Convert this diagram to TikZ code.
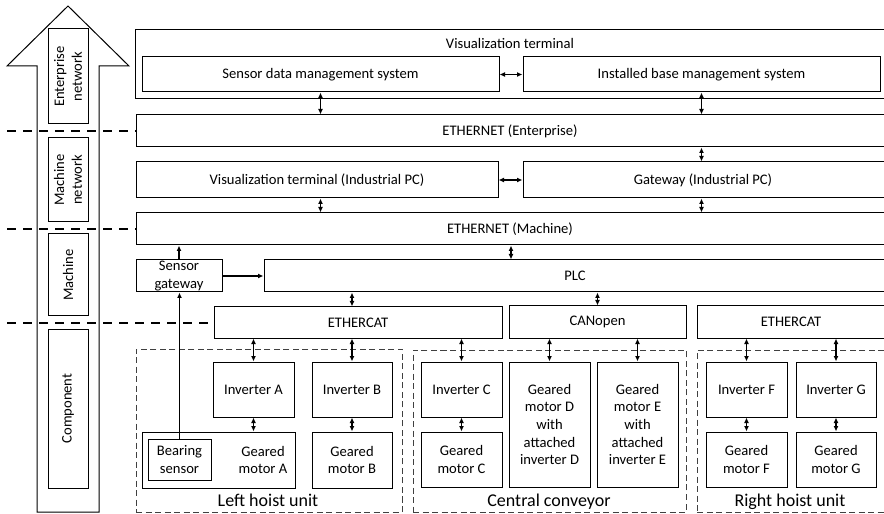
\documentclass[tikz,border=0pt]{standalone}
\usepackage{fontspec}
\setmainfont{Carlito}
\usetikzlibrary{arrows.meta}
\newcommand\fsz{\fontsize{14.6bp}{17.6bp}\selectfont}
\newcommand\fbig{\fontsize{18bp}{21bp}\selectfont}
\begin{document}
\begin{tikzpicture}[x=1bp,y=-1bp,
  span/.style n args={4}{minimum width={(#3-#1)*1bp}, minimum height={(#4-#2)*1bp}, at={({(#1+#3)/2},{(#2+#4)/2})}},
  box/.style={draw, line width=1bp, inner sep=0pt, align=center, font=\fsz},
  ubox/.style={draw=black!75, line width=1bp, dash pattern=on 6bp off 3.5bp, inner sep=0pt},
  txt/.style={inner sep=0pt, align=center, font=\fsz},
  utxt/.style={inner sep=0pt, align=center, font=\fbig},
  sepline/.style={line width=2.5bp, dash pattern=on 9bp off 7bp},
  dbl/.style={line width=1.3bp, {Latex[length=5.5bp,width=5bp]}-{Latex[length=5.5bp,width=5bp]}},
  one/.style={line width=1.3bp, -{Latex[length=5.5bp,width=5bp]}}]
\useasboundingbox (0,0) rectangle (884,514);
\clip (0,0) rectangle (884,514);

% big arrow
\draw[line width=1bp, fill=white] (37,512) -- (37,66) -- (7,66) -- (68,6) -- (129,66) -- (99,66) -- (99,512) -- cycle;

% level labels
\node[box, span={48}{29}{88}{124}] (lEnt) {};
\node[txt, rotate=90] (tEnt) at (lEnt.center) {Enterprise\\network};
\node[box, span={48}{138}{88}{222}] (lMn) {};
\node[txt, rotate=90] (tMn) at (lMn.center) {Machine\\network};
\node[box, span={48}{234}{88}{316}] (lMa) {};
\node[txt, rotate=90] (tMa) at (lMa.center) {Machine};
\node[box, span={48}{329}{88}{488}] (lCo) {};
\node[txt, rotate=90] (tCo) at (lCo.center) {Component};

% enterprise level
\node[box, span={135}{30}{890}{99}] (vt) {};
\node[txt] (vtl) at (510,43) {Visualization terminal};
\node[box, span={142}{57}{499}{92}] (sdm) {Sensor data management system};
\node[box, span={523}{57}{880}{92}] (ib) {Installed base management system};
\node[box, span={136}{115}{890}{147}] (ethE) {};
\node[txt] (tethE) at (510,131) {ETHERNET (Enterprise)};

% machine network level
\node[box, span={136}{162}{498}{198}] (ipc) {Visualization terminal (Industrial PC)};
\node[box, span={523}{162}{890}{198}] (gw) {};
\node[txt] (tgw) at (703,180) {Gateway (Industrial PC)};
\node[box, span={136}{213}{890}{245}] (ethM) {};
\node[txt] (tethM) at (510,229) {ETHERNET (Machine)};

% machine level
\node[box, span={136}{260}{222}{292}] (sg) {Sensor\\gateway};
\node[box, span={264}{260}{890}{292}] (plc) {};
\node[txt] (tplc) at (575,276) {PLC};

% field buses
\node[box, span={214}{307}{502}{338}] (ecL) {ETHERCAT};
\node[box, span={509}{306}{686}{338}] (can) {CANopen};
\node[box, span={697}{306}{890}{338}] (ecR) {};
\node[txt] (tecR) at (791,322) {ETHERCAT};

% units
\node[ubox, span={136}{349}{402}{512}] (uL) {};
\node[ubox, span={413}{350}{686}{512}] (uC) {};
\node[ubox, span={697}{350}{890}{512}] (uR) {};
\node[utxt] (tuL) at (268,500) {Left hoist unit};
\node[utxt] (tuC) at (549,502) {Central conveyor};
\node[utxt] (tuR) at (790,502) {Right hoist unit};

% components
\node[box, span={213}{362}{294}{417}] (inva) {Inverter A};
\node[box, span={312}{362}{392}{417}] (invb) {Inverter B};
\node[box, span={142}{432}{295}{488}] (gma) {};
\node[txt] (tgma) at (263,460) {Geared\\motor A};
\node[box, span={148}{439}{211}{480}] (bs) {Bearing\\sensor};
\node[box, span={312}{432}{392}{488}] (gmb) {Geared\\motor B};
\node[box, span={421}{362}{502}{417}] (invc) {Inverter C};
\node[box, span={421}{432}{502}{487}] (gmc) {Geared\\motor C};
\node[box, span={509}{362}{590}{487}] (gmd) {Geared\\motor D\\with\\attached\\inverter D};
\node[box, span={597}{362}{678}{487}] (gme) {Geared\\motor E\\with\\attached\\inverter E};
\node[box, span={706}{362}{787}{417}] (invf) {Inverter F};
\node[box, span={796}{362}{876}{417}] (invg) {Inverter G};
\node[box, span={706}{432}{787}{487}] (gmf) {Geared\\motor F};
\node[box, span={796}{432}{876}{487}] (gmg) {Geared\\motor G};

% separators
\coordinate (s1) at (7,131);
\coordinate (s2) at (7,229);
\coordinate (s3) at (7,323);
\draw[sepline] (s1) -- (ethE.west);
\draw[sepline] (s2) -- (ethM.west);
\draw[sepline] (s3) -- (s3 -| ecL.west);

% connectors
\coordinate (xa) at (511,0);
\draw[dbl] (sdm.east) -- (ib.west);
\draw[dbl] (sdm.south) -- (ethE.north -| sdm.south);
\draw[dbl] (ib.south) -- (ethE.north -| ib.south);
\draw[dbl] (ethE.south -| ib.south) -- (gw.north -| ib.south);
\draw[dbl] (ipc.east) -- (gw.west |- ipc.east);
\draw[dbl] (ipc.south -| sdm.south) -- (ethM.north -| sdm.south);
\draw[dbl] (gw.south -| ib.south) -- (ethM.north -| ib.south);
\draw[dbl] (ethM.south -| xa) -- (plc.north -| xa);
\draw[dbl] (plc.south -| invb.north) -- (ecL.north -| invb.north);
\draw[dbl] (plc.south -| can.north) -- (can.north);
\draw[one] (sg.north) -- (ethM.south -| sg.north);
\draw[one] (sg.east) -- (plc.west |- sg.east);
\draw[one] (bs.north) -- (sg.south -| bs.north);

\draw[dbl] (ecL.south -| inva.north) -- (inva.north);
\draw[dbl] (ecL.south -| invb.north) -- (invb.north);
\draw[dbl] (ecL.south -| invc.north) -- (invc.north);
\draw[dbl] (can.south -| gmd.north) -- (gmd.north);
\draw[dbl] (can.south -| gme.north) -- (gme.north);
\draw[dbl] (ecR.south -| invf.north) -- (invf.north);
\draw[dbl] (ecR.south -| invg.north) -- (invg.north);

\draw[dbl] (inva.south) -- (gma.north -| inva.south);
\draw[dbl] (invb.south) -- (gmb.north);
\draw[dbl] (invc.south) -- (gmc.north);
\draw[dbl] (invf.south) -- (gmf.north);
\draw[dbl] (invg.south) -- (gmg.north);
\end{tikzpicture}
\end{document}
